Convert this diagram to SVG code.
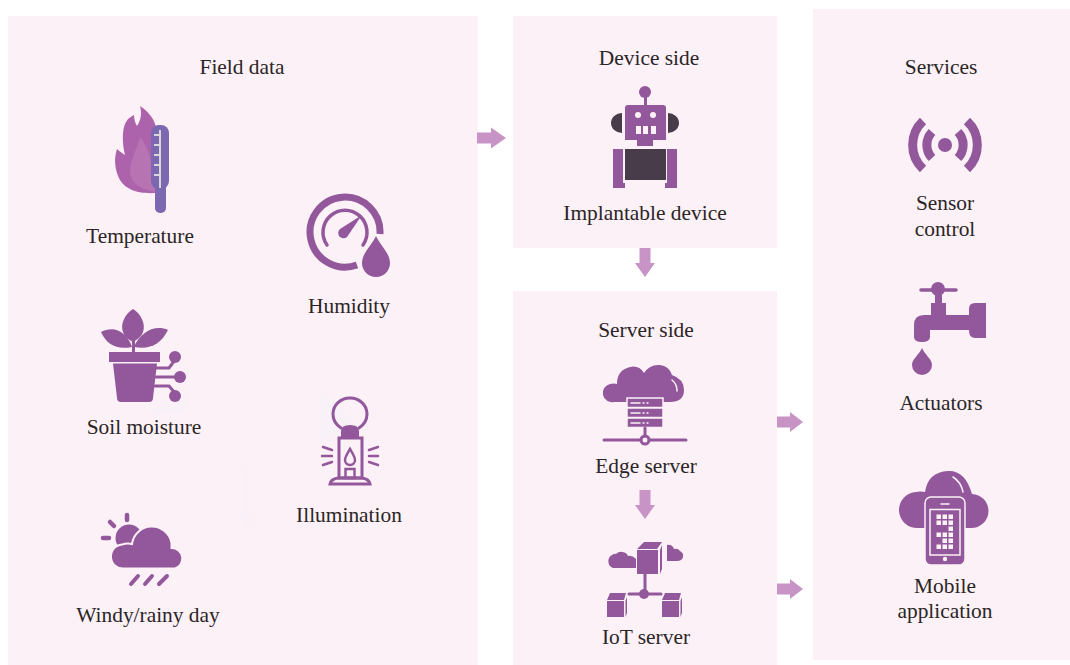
<svg xmlns="http://www.w3.org/2000/svg" xmlns:xlink="http://www.w3.org/1999/xlink" width="1070" height="665" viewBox="0 0 1070 665">
<style>
text{font-family:"Liberation Serif","Times New Roman",serif;font-size:21.4px;fill:#2b2527;text-anchor:middle}
.panel{fill:#fcf1f6}
.p{fill:#93589b}
.s{fill:none;stroke:#93589b;stroke-linecap:round}
.l{fill:#fcf1f6}
.ls{fill:none;stroke:#fcf1f6;stroke-linecap:round}
.d{fill:#483c4b}
.a{fill:#c794c5}
.g{fill:#f8f1f8}
</style>
<defs>
<polygon id="ar" points="0,-5.500 14,-5.500 14,-10.500 29,0 14,10.500 14,5.500 0,5.500"/>
<polygon id="ar2" points="0,-5.500 13,-5.500 13,-10 26,0 13,10 13,5.500 0,5.500"/>
<polygon id="ad" points="-5.500,0 5.500,0 5.500,15 10,15 0,29 -10,15 -5.500,15"/>
</defs>
<rect width="1070" height="665" fill="#fff"/>
<g id="panels">
<rect class="panel" x="8" y="16" width="470" height="649"/>
<rect class="panel" x="513" y="16" width="264" height="232"/>
<rect class="panel" x="513" y="291" width="264" height="374"/>
<rect class="panel" x="813" y="9" width="257" height="651"/>
</g>
<g id="ghosts">
<polygon class="g" points="319,393 353,420 319,443"/>
<polygon class="g" points="186,390 186,413 147,413"/>
<path d="M247 465V520M240 512l7 13 7-13" fill="none" stroke="#f9f1f7" stroke-width="3"/>
</g>
<text x="242" y="74">Field data</text>
<text x="649" y="65">Device side</text>
<text x="646" y="337">Server side</text>
<text x="941" y="74">Services</text>
<g id="connectors" class="a">
<use xlink:href="#ar" href="#ar" x="477" y="138"/>
<use xlink:href="#ad" href="#ad" x="645" y="248"/>
<use xlink:href="#ad" href="#ad" x="645" y="490"/>
<use xlink:href="#ar2" href="#ar2" x="777" y="422"/>
<use xlink:href="#ar2" href="#ar2" x="777" y="589"/>
</g>
<g id="temperature">
<path d="M140 106C149 112 155 120 156 128V193C140 194 122 191 117 173C114 163 115 155 117 149C119 151 122 153 125 155C122 143 122 128 126 122C128 118 132 116 134 115C134 119 135 123 137 126C141 120 142 113 140 106Z" fill="#ac63ab"/>
<path d="M140 137C147 145 153 160 156 192C143 190 131 185 130 172C130 160 137 150 140 137Z" fill="#b873b3"/>
<rect x="151" y="125" width="18" height="64" rx="8" fill="#7b68b0"/>
<rect x="155" y="180" width="11" height="33" rx="5" fill="#7b68b0"/>
<path d="M160 130V188M154 135H160M154 145H160M154 155H160M154 165H160M154 175H160" stroke="#d9d6d9" stroke-width="2" fill="none"/>
<text x="140" y="243">Temperature</text>
</g>
<g id="humidity">
<path class="s" stroke-width="7" style="stroke-linecap:butt" d="M380 234A35 35 0 1 0 357 265"/>
<path class="s" stroke-width="3.500" d="M327 245A22 22 0 1 1 363 245"/>
<path class="p" d="M340 229L362 215L347 237A5 5 0 0 1 340 229Z"/>
<path class="p" d="M376 236C380 245 390 253 390 263A14 14 0 0 1 362 263C362 253 372 245 376 236Z"/>
<text x="349" y="313">Humidity</text>
</g>
<g id="soil">
<path class="p" d="M133 309C141 314 146 324 143 332C141 338 136 340 133 342C130 340 125 338 123 332C120 324 125 314 133 309Z"/>
<path class="p" d="M101 332C114 325 127 332 132 347C117 350 107 345 101 332Z"/>
<path class="p" d="M168 330C155 324 140 332 134 347C150 350 161 344 168 330Z"/>
<rect class="p" x="132" y="340" width="3" height="13"/>
<rect class="p" x="109" y="352" width="51" height="10"/>
<path class="p" d="M113 363.500H157L153 398Q153 402 149 402H121Q117 402 117 398Z"/>
<path class="s" stroke-width="3" d="M156 368H169L175 360M156 377H176M155 386H169L175 393"/>
<circle class="p" cx="175" cy="357" r="6"/><circle class="p" cx="180" cy="377" r="6"/><circle class="p" cx="175" cy="396" r="6"/>
<text x="144" y="434">Soil moisture</text>
</g>
<g id="illumination">
<path class="s" stroke-width="3" d="M341 428C335 424 333 420 333 414A17 16 0 0 1 367 414C367 420 365 424 359 428"/>
<path class="p" d="M341 438V431Q341 425 350 425Q359 425 359 431V438Z"/>
<rect x="339" y="438" width="23" height="40" fill="none" stroke="#93589b" stroke-width="3"/>
<path class="s" stroke-width="2.500" d="M350 449C347 454 345 457 345 460A5 5 0 0 0 355 460C355 457 353 454 350 449Z"/>
<rect x="345.500" y="469" width="9" height="9" fill="none" stroke="#93589b" stroke-width="2.500"/>
<path class="s" stroke-width="3" d="M338 478H362Q369 479 370 484H330Q331 479 338 478Z"/>
<path class="s" stroke-width="2.500" d="M323 447L332 450M322 456H332M323 465L332 462M378 447L369 450M378 456H369M378 465L369 462"/>
<text x="349" y="522">Illumination</text>
</g>
<g id="weather">
<circle class="p" cx="129" cy="538" r="13.500"/>
<path class="s" stroke-width="4.500" d="M127 515V520M110 522L114 526M103 538H109"/>
<path class="p" stroke="#fcf1f6" stroke-width="2" d="M124 568.500A12 12 0 0 1 122 544.500Q127 543 132 544A20 20 0 0 1 171.500 543V548A10.500 10.500 0 0 1 175 568.500Z"/>
<path class="s" stroke-width="4" d="M131 584L138 576M145 584L152 576M159 584L167 576"/>
<text x="148" y="622">Windy/rainy day</text>
</g>
<g id="implantable">
<circle class="p" cx="645" cy="92" r="6"/>
<rect class="p" x="644" y="92" width="3" height="14"/>
<path class="d" d="M622 113A11 10 0 0 0 622 133ZM668 113A11 10 0 0 1 668 133Z"/>
<path class="p" d="M628 105H663Q666 105 666 108V140H653V146H637V140H625V108Q625 105 628 105Z"/>
<circle class="l" cx="638" cy="115" r="3"/><circle class="l" cx="653" cy="115" r="3"/>
<rect class="l" x="636" y="126" width="5" height="8"/><rect class="l" x="643" y="126" width="5" height="8"/><rect class="l" x="651" y="126" width="5" height="8"/>
<rect class="d" x="625" y="149" width="41" height="31"/>
<path class="p" d="M613 149H623V183H625V188H613ZM667 149H677V188H665V183H667Z"/>
<text x="645" y="220">Implantable device</text>
</g>
<g id="edge">
<path class="p" d="M627 402H614A9 9 0 0 1 610 384Q614 383 617 384Q617 370 630 367Q639 365 644 373Q650 364 660 365Q669 366 672 375Q684 379 684 390Q684 402 670 402Z"/>
<path class="ls" stroke-width="1.500" d="M672 380Q677 384 677 391"/>
<rect class="p" x="627" y="398" width="36" height="9.500" stroke="#fcf1f6" stroke-width="1.500"/>
<rect class="p" x="627" y="408" width="36" height="9.500" stroke="#fcf1f6" stroke-width="1.500"/>
<rect class="p" x="627" y="418" width="36" height="9.500" stroke="#fcf1f6" stroke-width="1.500"/>
<path class="ls" stroke-width="1.500" d="M631 403H640M643 403H644M647 403H648M631 413H640M643 413H644M647 413H648M631 423H640M643 423H644M647 423H648"/>
<path class="s" stroke-width="3" d="M645 428V436M604 440H641M649 440H686"/>
<circle cx="645" cy="440" r="4" fill="none" stroke="#93589b" stroke-width="3"/>
<text x="646" y="473">Edge server</text>
</g>
<g id="iot">
<path class="p" d="M637 549L644 542H662L657 549ZM637 550H658V574H637ZM660 550L662 545V569L660 574Z"/>
<path class="p" d="M636 568H613A6.500 7 0 0 1 612 555Q615 553 616 554A7 6 0 0 1 628 556Q632 555 636 559Z"/>
<path class="p" d="M667 545Q672 544 674 549Q678 548 680 551Q684 553 683 557Q682 561 677 561H667Z"/>
<path class="s" stroke-width="3" d="M645 574V594M629 594H661"/>
<circle class="p" cx="644" cy="594" r="5"/>
<path class="p" d="M607 600L610 593H626L624 600ZM607 601H624V617H607ZM625.500 601L627 597V613L625.500 617Z"/>
<path class="p" d="M662 600L665 593H681L679 600ZM662 601H679V617H662ZM680.500 601L682 597V613L680.500 617Z"/>
<text x="646" y="644">IoT server</text>
</g>
<g id="sensor">
<circle class="p" cx="945" cy="145" r="7"/>
<path class="s" stroke-width="9" style="stroke-linecap:butt" d="M923 121A33 33 0 0 0 923 169M967 121A33 33 0 0 1 967 169M932 132A19 19 0 0 0 932 158M958 132A19 19 0 0 1 958 158"/>
<text x="945" y="210">Sensor</text>
<text x="945" y="236">control</text>
</g>
<g id="actuators">
<circle class="p" cx="938" cy="289" r="7"/>
<path class="s" stroke-width="3.500" d="M921 290H956"/>
<rect class="p" x="935" y="295" width="7" height="9"/>
<path class="p" d="M931 303H946V315H969V309Q969 303 975 303H986V338H975Q969 338 969 330H930V337Q930 342 922 342Q914 342 914 337V325Q914 315 924 315H931Z"/>
<path class="p" d="M922 348C925 355 932 359 932 365A10 10 0 0 1 912 365C912 359 919 355 922 348Z"/>
<text x="941" y="410">Actuators</text>
</g>
<g id="mobile">
<path class="p" d="M918 528A18 18 0 0 1 916 492Q920 491 925 492Q928 472 948 471Q965 470 972 494A17 17 0 0 1 971 528Z"/>
<path class="ls" stroke-width="1.500" d="M953 477Q961 482 963 492"/>
<rect class="p" x="925" y="497" width="40" height="68" rx="6" stroke="#fcf1f6" stroke-width="1.500"/>
<rect x="930" y="509.500" width="30" height="45.500" fill="none" stroke="#fcf1f6" stroke-width="1.500"/>
<path class="ls" stroke-width="1.500" d="M941 504H949"/>
<circle class="l" cx="945" cy="559" r="2.200"/>
<g class="l">
<rect x="936.500" y="514.500" width="4.500" height="4.500"/><rect x="942.500" y="514.500" width="4.500" height="4.500"/><rect x="948.500" y="514.500" width="4.500" height="4.500"/>
<rect x="936.500" y="520.500" width="4.500" height="4.500"/><rect x="942.500" y="520.500" width="4.500" height="4.500"/><rect x="948.500" y="520.500" width="4.500" height="4.500"/>
<rect x="948.500" y="526.500" width="4.500" height="4.500"/>
<rect x="936.500" y="532.500" width="4.500" height="4.500"/><rect x="942.500" y="532.500" width="4.500" height="4.500"/><rect x="948.500" y="532.500" width="4.500" height="4.500"/>
<rect x="942.500" y="538.500" width="4.500" height="4.500"/><rect x="948.500" y="538.500" width="4.500" height="4.500"/>
<rect x="936.500" y="544.500" width="4.500" height="4.500"/><rect x="942.500" y="544.500" width="4.500" height="4.500"/><rect x="948.500" y="544.500" width="4.500" height="4.500"/>
</g>
<text x="945" y="593">Mobile</text>
<text x="945" y="618">application</text>
</g>
</svg>
